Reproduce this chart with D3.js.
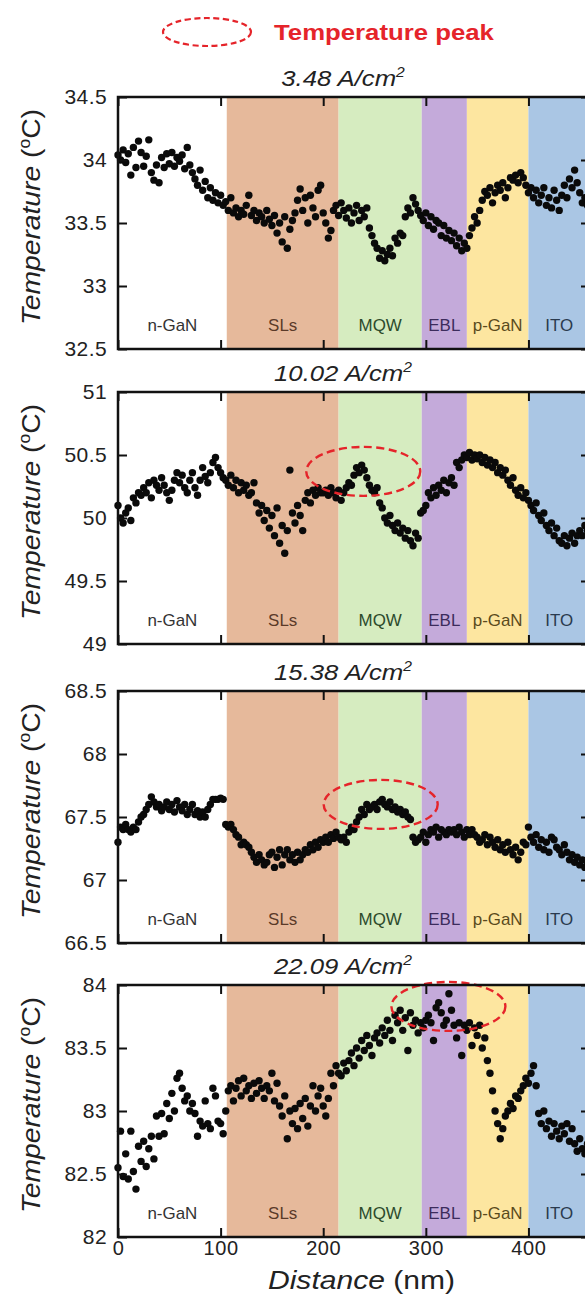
<!DOCTYPE html>
<html><head><meta charset="utf-8">
<script src="https://cdn.jsdelivr.net/npm/d3@7"></script>
<style>html,body{margin:0;padding:0;background:#fff;} svg{display:block;font-family:"Liberation Sans",Arial,sans-serif;}</style>
</head><body><svg id="c" width="585" height="1296"></svg>
<script>
// ---------- DATA ----------
const distance = [
0,2.5,5,7.5,10,12.5,15,17.5,20,22.5,
25,27.5,30,32.5,35,37.5,40,42.5,45,47.5,
50,52.5,55,57.5,60,62.5,65,67.5,70,72.5,
75,77.5,80,82.5,85,87.5,90,92.5,95,97.5,
100,102.5,105,107.5,110,112.5,115,117.5,120,122.5,
125,127.5,130,132.5,135,137.5,140,142.5,145,147.5,
150,152.5,155,157.5,160,162.5,165,167.5,170,172.5,
175,177.5,180,182.5,185,187.5,190,192.5,195,197.5,
200,202.5,205,207.5,210,212.5,215,217.5,220,222.5,
225,227.5,230,232.5,235,237.5,240,242.5,245,247.5,
250,252.5,255,257.5,260,262.5,265,267.5,270,272.5,
275,277.5,280,282.5,285,287.5,290,292.5,295,297.5,
300,302.5,305,307.5,310,312.5,315,317.5,320,322.5,
325,327.5,330,332.5,335,337.5,340,342.5,345,347.5,
350,352.5,355,357.5,360,362.5,365,367.5,370,372.5,
375,377.5,380,382.5,385,387.5,390,392.5,395,397.5,
400,402.5,405,407.5,410,412.5,415,417.5,420,422.5,
425,427.5,430,432.5,435,437.5,440,442.5,445,447.5,
450,452.5,455,457.5];

const temp348 = [
34.04,34.0,34.08,33.98,34.05,33.88,34.1,33.94,34.15,34.06,
33.95,34.03,34.16,33.9,33.84,33.96,33.82,34.02,33.94,34.05,
33.97,34.06,33.95,34.02,33.99,34.04,33.93,34.1,33.96,33.9,
33.85,33.8,33.92,33.76,33.83,33.7,33.78,33.68,33.74,33.66,
33.72,33.64,33.67,33.6,33.7,33.58,33.62,33.55,33.6,33.57,
33.64,33.72,33.56,33.6,33.52,33.58,33.55,33.5,33.6,33.53,
33.48,33.56,33.42,33.5,33.35,33.55,33.3,33.45,33.52,33.58,
33.68,33.77,33.6,33.7,33.5,33.72,33.62,33.55,33.76,33.8,
33.58,33.5,33.38,33.44,33.6,33.64,33.56,33.66,33.6,33.54,
33.62,33.5,33.58,33.64,33.52,33.6,33.55,33.62,33.46,33.4,
33.34,33.3,33.22,33.28,33.2,33.25,33.3,33.24,33.38,33.34,
33.42,33.4,33.55,33.62,33.58,33.7,33.65,33.6,33.56,33.52,
33.58,33.48,33.55,33.45,33.52,33.5,33.4,33.48,33.38,33.44,
33.36,33.42,33.32,33.38,33.28,33.34,33.3,33.4,33.46,33.55,
33.5,33.6,33.68,33.75,33.72,33.78,33.66,33.74,33.8,33.76,
33.82,33.7,33.78,33.86,33.84,33.88,33.82,33.9,33.86,33.8,
33.74,33.78,33.7,33.76,33.66,33.72,33.78,33.64,33.7,33.62,
33.76,33.68,33.6,33.72,33.8,33.7,33.85,33.78,33.92,33.82,
33.74,33.66,33.7,33.64];

const temp1002 = [
50.1,50.0,49.96,50.04,50.08,49.98,50.16,50.12,50.2,50.18,
50.24,50.2,50.28,50.16,50.3,50.26,50.22,50.32,50.26,50.2,
50.14,50.22,50.3,50.36,50.28,50.34,50.24,50.2,50.3,50.36,
50.24,50.18,50.3,50.4,50.33,50.28,50.36,50.44,50.48,50.4,
50.36,50.32,50.3,50.26,50.34,50.24,50.3,50.2,50.28,50.22,
50.26,50.18,50.2,50.28,50.12,50.04,50.1,49.98,50.06,49.92,
50.02,49.86,50.08,49.8,49.94,49.72,49.9,50.38,50.04,49.96,
50.1,50.02,49.9,50.14,50.2,50.12,50.22,50.18,50.24,50.2,
50.2,50.22,50.18,50.24,50.2,50.16,50.22,50.14,50.2,50.24,
50.28,50.26,50.34,50.4,50.36,50.42,50.38,50.32,50.26,50.22,
50.2,50.24,50.12,50.08,50.0,49.96,50.02,49.94,49.9,49.96,
49.88,49.92,49.84,49.9,49.82,49.78,49.88,49.84,50.04,50.06,
50.1,50.2,50.16,50.24,50.18,50.26,50.22,50.3,50.2,50.28,
50.32,50.26,50.44,50.4,50.46,50.5,50.48,50.52,50.46,50.5,
50.47,50.5,50.44,50.48,50.42,50.46,50.4,50.44,50.36,50.4,
50.34,50.38,50.3,50.26,50.32,50.22,50.18,50.24,50.16,50.2,
50.14,50.1,50.06,50.12,50.02,49.98,50.04,49.94,49.9,49.96,
49.86,49.92,49.82,49.8,49.86,49.78,49.84,49.88,49.8,49.86,
49.9,49.86,49.94,49.9];

const temp1538 = [
67.3,67.42,67.4,67.44,67.4,67.38,67.42,67.4,67.46,67.5,
67.52,67.56,67.6,67.66,67.62,67.58,67.6,67.55,67.58,67.62,
67.56,67.6,67.54,67.63,67.58,67.55,67.6,67.52,67.56,67.6,
67.52,67.55,67.5,67.54,67.5,67.56,67.6,67.64,67.64,67.64,
67.65,67.64,67.44,67.42,67.44,67.4,67.36,67.34,67.28,67.3,
67.28,67.26,67.22,67.18,67.14,67.2,67.16,67.12,67.14,67.2,
67.22,67.1,67.18,67.24,67.12,67.2,67.24,67.16,67.2,67.14,
67.22,67.16,67.2,67.24,67.22,67.28,67.24,67.3,67.26,67.32,
67.3,67.34,67.3,67.36,67.33,67.38,67.34,67.32,67.34,67.3,
67.38,67.42,67.4,67.46,67.5,67.56,67.52,67.6,67.56,67.58,
67.6,67.56,67.62,67.64,67.6,67.58,67.62,67.56,67.58,67.54,
67.56,67.52,67.54,67.5,67.48,67.34,67.3,67.32,67.34,67.38,
67.3,67.36,67.4,67.38,67.42,67.34,67.4,67.38,67.36,67.4,
67.38,67.4,67.36,67.42,67.38,67.34,67.4,67.36,67.4,67.36,
67.34,67.3,67.32,67.36,67.28,67.34,67.3,67.26,67.32,67.24,
67.28,67.22,67.3,67.24,67.2,67.26,67.16,67.22,67.3,67.28,
67.42,67.34,67.3,67.36,67.26,67.32,67.24,67.3,67.22,67.34,
67.32,67.26,67.24,67.2,67.28,67.22,67.16,67.2,67.14,67.18,
67.12,67.16,67.1,67.14];

const temp2209 = [
82.55,82.84,82.48,82.66,82.46,82.84,82.52,82.38,82.72,82.6,
82.76,82.56,82.7,82.8,82.62,82.96,82.8,82.98,82.82,83.06,
82.94,83.14,83.0,83.26,83.3,83.18,83.08,83.12,83.0,83.06,
82.98,82.8,82.92,82.88,83.08,82.9,82.86,83.18,83.12,82.92,
82.9,82.82,83.0,83.16,83.2,83.08,83.18,83.24,83.12,83.26,
83.16,83.2,83.1,83.22,83.14,83.24,83.18,83.1,83.2,83.16,
83.3,83.08,83.22,83.04,82.96,83.12,82.78,83.0,82.9,83.02,
82.86,83.06,82.94,83.1,82.88,83.04,83.2,83.0,83.12,83.18,
83.04,82.96,83.1,83.3,83.2,83.36,83.3,83.28,83.38,83.32,
83.4,83.46,83.36,83.5,83.42,83.56,83.48,83.6,83.52,83.44,
83.58,83.62,83.54,83.66,83.6,83.72,83.64,83.56,83.76,83.7,
83.8,83.64,83.74,83.48,83.78,83.68,83.72,83.62,83.7,83.66,
83.72,83.76,83.7,83.56,83.82,83.86,83.78,83.68,83.72,83.93,
83.8,83.68,83.58,83.7,83.44,83.68,83.64,83.7,83.52,83.66,
83.6,83.68,83.5,83.58,83.4,83.3,83.16,83.0,82.9,82.78,
82.86,82.96,83.0,83.06,83.02,83.12,83.1,83.16,83.2,83.26,
83.22,83.3,83.36,83.2,82.98,82.9,83.0,82.86,82.92,82.8,
82.9,82.84,82.78,82.88,82.82,82.9,82.76,82.86,82.74,82.68,
82.78,82.7,82.66,82.74];

const currentDensity = ["3.48", "10.02", "15.38", "22.09"];
const tempDomainMin = [32.5, 49, 66.5, 82];
const tempDomainMax = [34.5, 51, 68.5, 84];
const yTicks348 = [32.5, 33, 33.5, 34, 34.5];
const yTicks1002 = [49, 49.5, 50, 50.5, 51];
const yTicks1538 = [66.5, 67, 67.5, 68, 68.5];
const yTicks2209 = [82, 82.5, 83, 83.5, 84];
const xTicks = [0, 100, 200, 300, 400];
const layerNames = ["n-GaN", "SLs", "MQW", "EBL", "p-GaN", "ITO"];
const layerStart = [0, 106, 215, 296, 340, 400];
const layerEnd = [106, 215, 296, 340, 400, 460];
// temperature-peak markers (null = none): centre distance (nm), centre temperature
const peakDistance = [null, 239, 256, 322];
const peakTemp = [null, 50.37, 67.6, 83.83];

// ---------- LAYOUT / STYLE ----------
const layerFill = ["#ffffff", "#e6b99b", "#d6ecc0", "#c4aada", "#fde6a0", "#aac6e4"];
const layerText = ["#333333", "#5a3a28", "#2c4a2c", "#3c2c5c", "#5a4a1c", "#2a3a4e"];
const left = 118, right = 590, panelTop = [97, 392, 691, 985], panelH = 252;
const RED = "#e5242a";
const SX = 1.12;

const svg = d3.select("#c");
const x = d3.scaleLinear().domain([0, 460]).range([left, right]);

// Legend
svg.append("ellipse").attr("cx", 207).attr("cy", 32).attr("rx", 44).attr("ry", 14)
  .attr("fill", "none").attr("stroke", RED).attr("stroke-width", 2.2).attr("stroke-dasharray", "6,3.5");
svg.append("text").attr("transform", `translate(274,40) scale(${SX},1)`)
  .attr("font-size", 23).attr("font-weight", "bold").attr("fill", RED).text("Temperature peak");

const tempsAll = [temp348, temp1002, temp1538, temp2209];
const ticksAll = [yTicks348, yTicks1002, yTicks1538, yTicks2209];

tempsAll.forEach((temps, k) => {
  const top = panelTop[k], bot = top + panelH;
  const y = d3.scaleLinear().domain([tempDomainMin[k], tempDomainMax[k]]).range([bot, top]);
  const g = svg.append("g");

  // layer bands
  g.selectAll("rect.band").data(layerNames).join("rect").attr("class", "band")
    .attr("x", (d, i) => x(layerStart[i])).attr("width", (d, i) => x(layerEnd[i]) - x(layerStart[i]))
    .attr("y", top).attr("height", panelH).attr("fill", (d, i) => layerFill[i]);

  // layer labels
  g.selectAll("text.layer").data(layerNames).join("text").attr("class", "layer")
    .attr("transform", (d, i) => `translate(${x((layerStart[i] + layerEnd[i]) / 2)},${bot - 18}) scale(1.06,1)`)
    .attr("text-anchor", "middle").attr("font-size", 16).attr("fill", (d, i) => layerText[i]).text(d => d);

  // points
  g.selectAll("circle").data(distance.map((d, i) => [d, temps[i]])).join("circle")
    .attr("cx", d => x(d[0])).attr("cy", d => y(d[1])).attr("r", 3.7).attr("fill", "#0a0a0a");

  // peak ellipse
  if (peakDistance[k] !== null) {
    g.append("ellipse").attr("cx", x(peakDistance[k])).attr("cy", y(peakTemp[k]))
      .attr("rx", 57).attr("ry", 24.5).attr("fill", "none").attr("stroke", RED)
      .attr("stroke-width", 2.4).attr("stroke-dasharray", "8,4.5");
  }

  // axes (inward ticks)
  const ax = (gen, tr) => {
    const a = g.append("g").attr("transform", tr).call(gen);
    a.select(".domain").remove();
    a.selectAll(".tick line").attr("stroke", "#111").attr("stroke-width", 2);
    return a;
  };
  const yl = ax(d3.axisLeft(y).tickValues(ticksAll[k]).tickSize(-9).tickPadding(11).tickFormat(d3.format("")), `translate(${left},0)`);
  yl.selectAll("text").attr("font-size", 21).attr("fill", "#222").attr("font-family", "Liberation Sans, Arial").attr("letter-spacing", "0.4px");
  const yr = ax(d3.axisRight(y).tickValues(ticksAll[k]).tickSize(-9), `translate(${right},0)`);
  yr.selectAll("text").remove();
  const xt = ax(d3.axisTop(x).tickValues(xTicks).tickSize(-9), `translate(0,${top})`);
  xt.selectAll("text").remove();
  const xb = ax(d3.axisBottom(x).tickValues(xTicks).tickSize(-9).tickPadding(4), `translate(0,${bot})`);
  if (k === 3) {
    xb.selectAll("text").attr("font-size", 20).attr("fill", "#222").attr("font-family", "Liberation Sans, Arial").attr("letter-spacing", "0.6px");
  } else {
    xb.selectAll("text").remove();
  }

  // frame
  g.append("rect").attr("x", left).attr("y", top).attr("width", right - left).attr("height", panelH)
    .attr("fill", "none").attr("stroke", "#111").attr("stroke-width", 2.5);

  // panel title
  const t = g.append("text").attr("transform", `translate(343,${top - 11}) scale(${SX},1)`)
    .attr("text-anchor", "middle").attr("font-size", 23).attr("font-style", "italic").attr("fill", "#222");
  t.append("tspan").text(currentDensity[k] + " A/cm");
  t.append("tspan").attr("font-size", 14).attr("dy", -9).text("2");

  // y-axis title
  const yt = g.append("text").attr("transform", `translate(40,${(top + bot) / 2 - 6}) rotate(-90)`)
    .attr("text-anchor", "middle").attr("font-size", 26).attr("fill", "#222")
    .attr("textLength", 216).attr("lengthAdjust", "spacingAndGlyphs");
  yt.append("tspan").attr("font-style", "italic").text("Temperature");
  yt.append("tspan").text(" (");
  yt.append("tspan").attr("font-size", 16).attr("dy", -10).text("o");
  yt.append("tspan").attr("dy", 10).text("C)");
});

// x-axis title
const xtit = svg.append("text").attr("x", 268).attr("y", 1289).attr("font-size", 25).attr("fill", "#222")
  .attr("textLength", 187).attr("lengthAdjust", "spacingAndGlyphs");
xtit.append("tspan").attr("font-style", "italic").text("Distance");
xtit.append("tspan").text(" (nm)");
</script></body></html>
